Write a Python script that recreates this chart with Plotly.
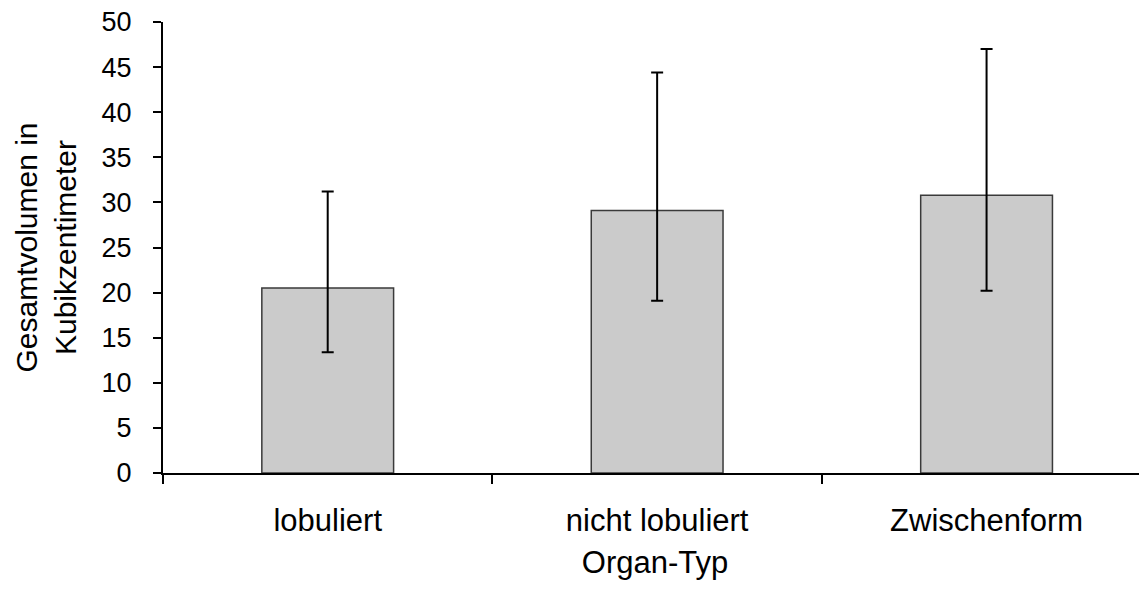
import plotly.graph_objects as go

# Organ-Typ categories, mean volume and error-bar limits (cm^3)
categories = ["lobuliert", "nicht lobuliert", "Zwischenform"]
mean_volume = [20.5, 29.1, 30.8]
upper_limit = [31.2, 44.4, 47.0]
lower_limit = [13.4, 19.1, 20.2]
y_ticks = [0, 5, 10, 15, 20, 25, 30, 35, 40, 45, 50]

err_plus = [u - m for u, m in zip(upper_limit, mean_volume)]
err_minus = [m - l for m, l in zip(mean_volume, lower_limit)]

font_family = "Liberation Sans, Arial, sans-serif"
def txt(size):
    return dict(family=font_family, size=size, color="black")

fig = go.Figure(go.Bar(
    x=categories, y=mean_volume, width=0.4,
    marker=dict(color="#cbcbcb", line=dict(color="#3a3a3a", width=1.5)),
    error_y=dict(type="data", symmetric=False, array=err_plus, arrayminus=err_minus,
                 color="black", thickness=2, width=6),
))

# page body adds 8px, so the figure is 8px smaller than the window
fig.update_layout(
    width=1139, height=589,
    margin=dict(l=155, r=0, t=14, b=124),
    plot_bgcolor="white", paper_bgcolor="white",
    font=txt(28),
    showlegend=False,
    xaxis=dict(
        range=[-0.5, 2.487], showline=True, linecolor="black", linewidth=2,
        ticks="outside", tickson="boundaries", ticklen=9, tickwidth=2, tickcolor="black",
        tickfont=txt(31), automargin=False, ticklabelstandoff=19,
        title=dict(text="Organ-Typ", font=txt(31), standoff=14), showgrid=False,
    ),
    yaxis=dict(
        range=[0, 50], tickvals=y_ticks, showline=True, linecolor="black", linewidth=2,
        ticks="outside", ticklen=8, tickwidth=2, tickcolor="black",
        tickfont=txt(27), automargin=False, ticklabelstandoff=16,
        ticklabeloverflow="allow",
        showgrid=False, zeroline=False,
        title=dict(text="Gesamtvolumen in<br>Kubikzentimeter", font=txt(30), standoff=16),
    ),
)

fig.write_html("out.html")
